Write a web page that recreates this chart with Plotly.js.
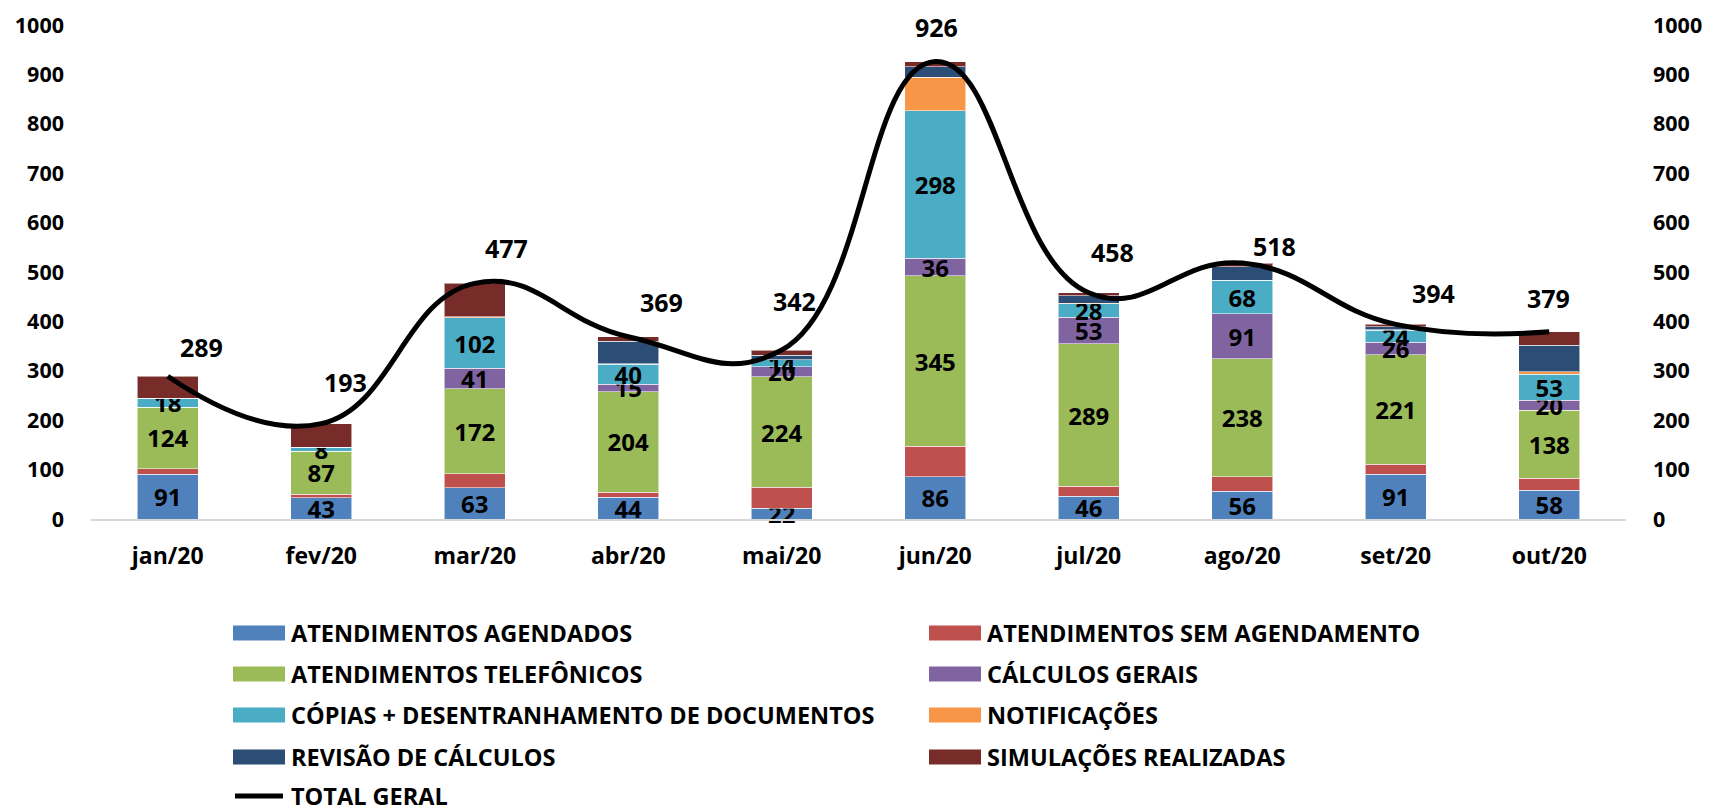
<!DOCTYPE html>
<html>
<head>
<meta charset="utf-8">
<script src="https://cdn.plot.ly/plotly-3.0.1.min.js"></script>
<style>
html,body{margin:0;padding:0;background:#fff;}
#chart{width:1709px;height:809px;}
</style>
</head>
<body>
<div id="chart"></div>
<script>
// ---- DATA ----
const months = ['jan/20','fev/20','mar/20','abr/20','mai/20','jun/20','jul/20','ago/20','set/20','out/20'];
const atendimentosAgendados   = [91, 43, 63, 44, 22, 86, 46, 56, 91, 58];
const atendimentosSemAgend    = [11, 7, 29, 10, 42, 61, 20, 30, 20, 24];
const atendimentosTelefonicos = [124, 87, 172, 204, 224, 345, 289, 238, 221, 138];
const calculosGerais          = [0, 0, 41, 15, 20, 36, 53, 91, 26, 20];
const copiasDesentranhamento  = [18, 8, 102, 40, 14, 298, 28, 68, 24, 53];
const notificacoes            = [0, 0, 2, 1, 0, 68, 1, 0, 1, 5];
const revisaoCalculos         = [0, 0, 0, 46, 9, 21, 15, 28, 6, 54];
const simulacoesRealizadas    = [45, 48, 68, 9, 11, 11, 6, 7, 5, 27];
const totalGeral              = [289, 193, 477, 369, 342, 926, 458, 518, 394, 379];
const yTicks = [0,100,200,300,400,500,600,700,800,900,1000];

// ---- STYLE ----
const FONT = 'Open Sans, Noto Sans, DejaVu Sans, sans-serif';
const W = 1709, H = 809;
const M = {l: 91, r: 83, t: 25, b: 290};
const plotW = W - M.l - M.r, plotH = H - M.t - M.b;
const px2x = p => (p - M.l) / plotW;
const py2y = p => (H - M.b - p) / plotH;

// label offsets for totals (pixels, right / up)
const totalDx = [34, 24, 32, 33, 13, 1, 24, 32, 38, -1];
const totalDy = [29, 42, 35, 35, 49, 35, 41, 17, 31, 34];

const series = [
  {name: 'ATENDIMENTOS AGENDADOS', values: atendimentosAgendados, color: '#4F81BD', label: true},
  {name: 'ATENDIMENTOS SEM AGENDAMENTO', values: atendimentosSemAgend, color: '#C0504D', label: false},
  {name: 'ATENDIMENTOS TELEFÔNICOS', values: atendimentosTelefonicos, color: '#9BBB59', label: true},
  {name: 'CÁLCULOS GERAIS', values: calculosGerais, color: '#8064A2', label: true},
  {name: 'CÓPIAS + DESENTRANHAMENTO DE DOCUMENTOS', values: copiasDesentranhamento, color: '#4BACC6', label: true},
  {name: 'NOTIFICAÇÕES', values: notificacoes, color: '#F79646', label: false},
  {name: 'REVISÃO DE CÁLCULOS', values: revisaoCalculos, color: '#2C4D75', label: false},
  {name: 'SIMULAÇÕES REALIZADAS', values: simulacoesRealizadas, color: '#772C2A', label: false}
];

const traces = series.map(s => ({
  type: 'bar',
  name: s.name,
  x: months,
  y: s.values,
  marker: {color: s.color, line: {color: 'rgba(255,255,255,0.55)', width: 1}},
  text: s.label ? s.values.map(v => v > 0 ? String(v) : '') : s.values.map(() => ''),
  textposition: s.label ? 'inside' : 'none',
  insidetextanchor: 'middle',
  textangle: 0,
  cliponaxis: false,
  textfont: {family: FONT, size: 24, color: '#000', weight: 'bold'},
  hoverinfo: 'name+y',
  showlegend: false
}));

traces.push({
  type: 'scatter',
  mode: 'lines',
  name: 'TOTAL GERAL',
  x: months,
  y: totalGeral,
  yaxis: 'y2',
  line: {color: '#000', width: 5, shape: 'spline', smoothing: 1.3},
  showlegend: false
});

const annotations = totalGeral.map((v, i) => ({
  x: months[i], y: v, xref: 'x', yref: 'y',
  text: String(v), showarrow: false,
  xanchor: 'center', yanchor: 'middle',
  xshift: totalDx[i], yshift: totalDy[i],
  font: {family: FONT, size: 25, color: '#000', weight: 'bold'}
}));

// custom legend
const shapes = [];
const legendItems = series.map(s => ({name: s.name, color: s.color, kind: 'bar'}))
  .concat([{name: 'TOTAL GERAL', color: '#000', kind: 'line'}]);
const colX = [233, 929];
const rowY = [633, 674, 715, 757, 796];
legendItems.forEach((it, i) => {
  const cx = colX[i % 2], cy = rowY[Math.floor(i / 2)];
  if (it.kind === 'bar') {
    shapes.push({type: 'rect', xref: 'paper', yref: 'paper',
      x0: px2x(cx), x1: px2x(cx + 52), y0: py2y(cy + 7.5), y1: py2y(cy - 7.5),
      fillcolor: it.color, line: {width: 0}});
  } else {
    shapes.push({type: 'line', xref: 'paper', yref: 'paper',
      x0: px2x(cx + 2), x1: px2x(cx + 50), y0: py2y(cy), y1: py2y(cy),
      line: {color: it.color, width: 5}});
  }
  annotations.push({xref: 'paper', yref: 'paper', x: px2x(cx + 56), y: py2y(cy),
    xanchor: 'left', yanchor: 'middle', showarrow: false, text: it.name,
    font: {family: FONT, size: 23.5, color: '#000', weight: 'bold'}});
});

const layout = {
  width: W, height: H,
  margin: M,
  paper_bgcolor: '#fff', plot_bgcolor: '#fff',
  barmode: 'stack',
  bargap: 0.6,
  showlegend: false,
  uniformtext: {mode: 'show', minsize: 24},
  font: {family: FONT, color: '#000'},
  xaxis: {
    type: 'category',
    showline: true, linecolor: '#d9d9d9', linewidth: 2,
    showgrid: false, zeroline: false, ticks: '',
    tickfont: {family: FONT, size: 23, color: '#000', weight: 'bold'},
    ticklabelstandoff: 15
  },
  yaxis: {
    range: [0, 1000], tickvals: yTicks, ticktext: yTicks.map(String),
    showgrid: false, zeroline: false, showline: false, ticks: '',
    tickfont: {family: FONT, size: 21.5, color: '#000', weight: 'bold'},
    ticklabelstandoff: 26
  },
  yaxis2: {
    overlaying: 'y', side: 'right',
    range: [0, 1000], tickvals: yTicks, ticktext: yTicks.map(String),
    showgrid: false, zeroline: false, showline: false, ticks: '',
    tickfont: {family: FONT, size: 21.5, color: '#000', weight: 'bold'},
    ticklabelstandoff: 26
  },
  annotations: annotations,
  shapes: shapes
};

Plotly.newPlot('chart', traces, layout, {displayModeBar: false, responsive: false});
</script>
</body>
</html>
